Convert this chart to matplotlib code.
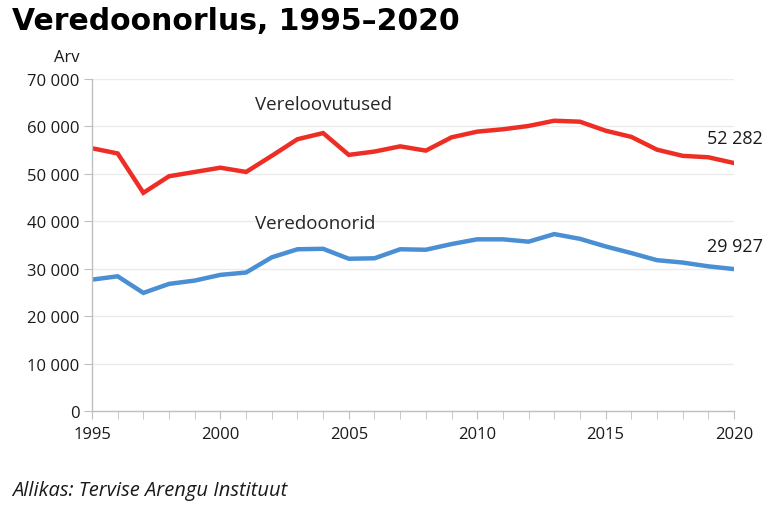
import matplotlib
matplotlib.use("Agg")
import matplotlib.pyplot as plt
from matplotlib.ticker import FuncFormatter, MultipleLocator

years = list(range(1995, 2021))
vereloovutused = [55400, 54300, 46000, 49500, 50400, 51300, 50400, 53800, 57300, 58600,
                  54000, 54700, 55800, 54900, 57700, 58900, 59400, 60100, 61200, 61000,
                  59100, 57800, 55100, 53800, 53500, 52282]
veredoonorid = [27700, 28400, 24900, 26800, 27500, 28700, 29200, 32400, 34100, 34200,
                32100, 32200, 34100, 34000, 35200, 36200, 36200, 35700, 37300, 36300,
                34700, 33300, 31800, 31300, 30500, 29927]
series_names = ["Vereloovutused", "Veredoonorid"]
title = "Veredoonorlus, 1995–2020"
source = "Allikas: Tervise Arengu Instituut"
y_label = "Arv"

RED = "#EE2E24"
BLUE = "#4A8FD3"
FONT = ["Open Sans", "DejaVu Sans"]
plt.rcParams["font.family"] = FONT

W, H = 768, 506
fig = plt.figure(figsize=(W / 100, H / 100), dpi=100)
ax = fig.add_axes([92 / W, 1 - 412 / H, (734 - 92) / W, (412 - 80) / H])

ax.plot(years, vereloovutused, color=RED, lw=3.2, solid_joinstyle="miter")
ax.plot(years, veredoonorid, color=BLUE, lw=3.2, solid_joinstyle="miter")

ax.set_xlim(1995, 2020)
ax.set_ylim(0, 70000)
ax.yaxis.set_major_locator(MultipleLocator(10000))
ax.yaxis.set_major_formatter(FuncFormatter(lambda v, p: f"{int(v):,}".replace(",", " ")))
ax.xaxis.set_major_locator(MultipleLocator(5))
ax.xaxis.set_minor_locator(MultipleLocator(1))
ax.grid(axis="y", color="#EBEBEB", lw=1)
ax.set_axisbelow(True)
for s in ["top", "right"]:
    ax.spines[s].set_visible(False)
for s in ["left", "bottom"]:
    ax.spines[s].set_color("#BFBFBF")
    ax.spines[s].set_linewidth(1)
ax.tick_params(axis="y", length=6, color="#BFBFBF", labelsize=12, labelcolor="#1a1a1a", pad=3)
ax.tick_params(axis="x", which="both", length=6, color="#BFBFBF", labelsize=12,
               labelcolor="#1a1a1a", pad=5)

ax.text(2004.0, 64700, series_names[0], fontsize=13.5, color="#262626", ha="center", va="center")
ax.text(2003.7, 39600, series_names[1], fontsize=13.5, color="#262626", ha="center", va="center")

fig.text(763 / W, 1 - 139 / H, f"{vereloovutused[-1]:,}".replace(",", " "), fontsize=13,
         color="#1a1a1a", ha="right", va="center")
fig.text(763 / W, 1 - 247 / H, f"{veredoonorid[-1]:,}".replace(",", " "), fontsize=13,
         color="#1a1a1a", ha="right", va="center")

fig.text(80 / W, 1 - 58 / H, y_label, fontsize=12, color="#1a1a1a", ha="right", va="center")
fig.text(12 / W, 1 - 22 / H, title, fontsize=21.5, fontweight="bold", color="black",
         ha="left", va="center", family=["DejaVu Sans"])
fig.text(12 / W, 1 - 491 / H, source, fontsize=14.5, style="italic", color="#1a1a1a",
         ha="left", va="center")

fig.savefig("out.png", dpi=100)
